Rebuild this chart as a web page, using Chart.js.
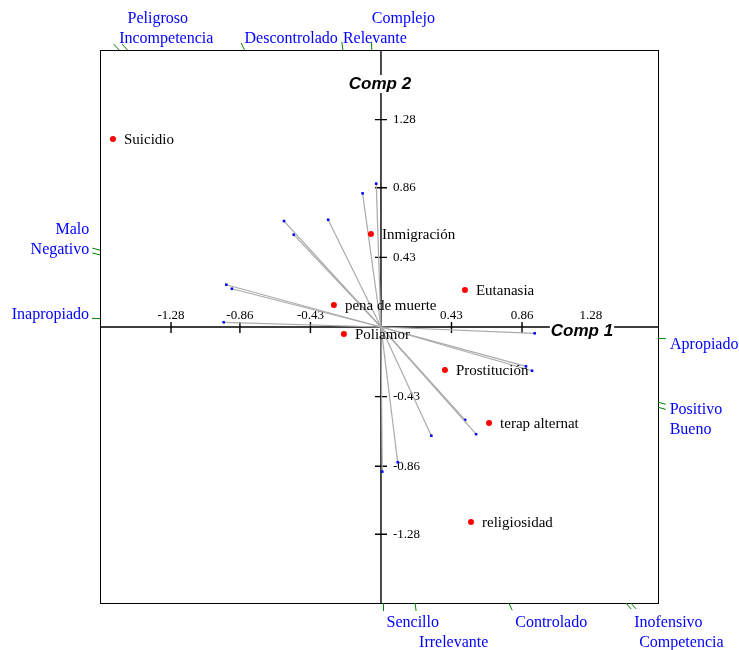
<!DOCTYPE html>
<html>
<head>
<meta charset="utf-8">
<script src="https://cdn.jsdelivr.net/npm/chart.js@4.4.0/dist/chart.umd.min.js"></script>
<style>
  body { margin: 0; background: #fff; }
  #wrap { width: 739px; height: 650px; }
</style>
</head>
<body>
<div id="wrap"><canvas id="biplot" width="739" height="650"></canvas></div>
<script>
// elements (red points)
const objLabels = ['Suicidio', 'Inmigración', 'Eutanasia', 'pena de muerte', 'Poliamor', 'Prostitución', 'terap alternat', 'religiosidad'];
const objX = [-1.634, -0.061, 0.512, -0.287, -0.226, 0.390, 0.659, 0.549];
const objY = [1.160, 0.574, 0.228, 0.136, -0.043, -0.265, -0.593, -1.204];

// construct poles (blue vector ends)
const poleLabels = ['Peligroso', 'Incompetencia', 'Descontrolado', 'Relevante', 'Complejo',
  'Malo', 'Negativo', 'Inapropiado', 'Apropiado', 'Positivo', 'Bueno',
  'Sencillo', 'Irrelevante', 'Controlado', 'Inofensivo', 'Competencia'];
const poleX = [-0.591, -0.532, -0.322, -0.112, -0.029, -0.943, -0.909, -0.959, 0.937, 0.884, 0.921, 0.008, 0.102, 0.307, 0.580, 0.513];
const poleY = [0.654, 0.570, 0.662, 0.825, 0.885, 0.261, 0.236, 0.029, -0.039, -0.243, -0.270, -0.893, -0.835, -0.671, -0.662, -0.574];

const axisTicks = [-1.28, -0.86, -0.43, 0.43, 0.86, 1.28];
const xRange = [-1.713, 1.689];
const yRange = [-1.704, 1.710];

const serif = '"Liberation Serif", "Times New Roman", serif';

// box, axes through the origin, tick labels, axis titles
const biplotFrame = {
  id: 'biplotFrame',
  beforeDatasetsDraw(chart) {
    const { ctx, chartArea: a, scales: { x, y } } = chart;
    const x0 = x.getPixelForValue(0), y0 = y.getPixelForValue(0);
    ctx.save();
    ctx.strokeStyle = '#000';
    ctx.lineWidth = 1;
    ctx.strokeRect(a.left + 0.5, a.top + 0.5, a.right - a.left, a.bottom - a.top);
    ctx.lineWidth = 1.4;
    ctx.beginPath();
    ctx.moveTo(a.left, y0); ctx.lineTo(a.right, y0);
    ctx.moveTo(x0, a.top); ctx.lineTo(x0, a.bottom);
    axisTicks.forEach(v => {
      const px = x.getPixelForValue(v), py = y.getPixelForValue(v);
      ctx.moveTo(px, y0 - 5); ctx.lineTo(px, y0 + 6);
      ctx.moveTo(x0 - 6, py); ctx.lineTo(x0 + 6, py);
    });
    ctx.stroke();

    ctx.fillStyle = '#000';
    ctx.font = '13px ' + serif;
    ctx.textAlign = 'center';
    ctx.textBaseline = 'alphabetic';
    axisTicks.forEach(v => ctx.fillText(v.toFixed(2), x.getPixelForValue(v), y0 - 8));
    ctx.textAlign = 'left';
    ctx.textBaseline = 'middle';
    axisTicks.forEach(v => ctx.fillText(v.toFixed(2), x0 + 12, y.getPixelForValue(v)));

    // axis titles on white boxes
    ctx.font = 'italic bold 17px "Liberation Sans", Arial, sans-serif';
    const titles = [['Comp 1', a.right - 76, y0 + 4], ['Comp 2', x0 - 1, a.top + 34]];
    titles.forEach(([t, cx, cy]) => {
      const w = ctx.measureText(t).width;
      ctx.fillStyle = '#fff';
      ctx.fillRect(cx - w / 2 - 1, cy - 9, w + 2, 18);
      ctx.fillStyle = '#000';
      ctx.textAlign = 'center';
      ctx.fillText(t, cx, cy);
    });
    ctx.restore();
  },
  afterDatasetsDraw(chart) {
    const { ctx, chartArea: a, scales: { x, y } } = chart;
    ctx.save();
    // element labels
    ctx.font = '15px ' + serif;
    ctx.fillStyle = '#000';
    ctx.textAlign = 'left';
    ctx.textBaseline = 'middle';
    objLabels.forEach((t, i) => ctx.fillText(t, x.getPixelForValue(objX[i]) + 11, y.getPixelForValue(objY[i]) + 1));

    // pole labels where each vector meets the box
    ctx.font = '16px ' + serif;
    const x0 = x.getPixelForValue(0), y0 = y.getPixelForValue(0);
    const sides = { top: [], bottom: [], left: [], right: [] };
    poleLabels.forEach((t, i) => {
      const vx = poleX[i], vy = poleY[i];
      const tx = vx > 0 ? xRange[1] / vx : xRange[0] / vx;
      const ty = vy > 0 ? yRange[1] / vy : yRange[0] / vy;
      const s = Math.min(tx, ty);
      const px = x.getPixelForValue(vx * s), py = y.getPixelForValue(vy * s);
      const dx = px - x0, dy = py - y0, len = Math.hypot(dx, dy);
      const ux = dx / len, uy = dy / len;
      const side = tx < ty ? (vx > 0 ? 'right' : 'left') : (vy > 0 ? 'top' : 'bottom');
      sides[side].push({ t, px, py, ex: px + ux * 8, ey: py + uy * 8, w: ctx.measureText(t).width });
    });

    ctx.strokeStyle = '#008000';
    ctx.lineWidth = 1;
    ctx.beginPath();
    Object.values(sides).flat().forEach(p => { ctx.moveTo(p.px, p.py); ctx.lineTo(p.ex, p.ey); });
    ctx.stroke();

    ctx.fillStyle = '#0000ff';
    ctx.textBaseline = 'alphabetic';
    // top and bottom: rows, pushed outward when they overlap
    ['top', 'bottom'].forEach(side => {
      const rows = [];
      sides[side].sort((p, q) => p.ex - q.ex).forEach(p => {
        const lx = side === 'top' ? p.px : p.ex + 3;
        let r = 0;
        while (rows[r] !== undefined && rows[r] > lx) r++;
        rows[r] = lx + p.w;
        const by = side === 'top' ? a.top - 7 - r * 20 : a.bottom + 24 + r * 20;
        ctx.textAlign = 'left';
        ctx.fillText(p.t, lx, by);
      });
    });
    // left and right: stacked vertically
    let prev = null;
    sides.left.sort((p, q) => q.ey - p.ey).forEach(p => {
      let by = p.ey + 1;
      if (prev !== null && prev - by < 18) by = prev - 20;
      prev = by;
      ctx.textAlign = 'right';
      ctx.fillText(p.t, p.ex - 3, by);
    });
    prev = null;
    sides.right.sort((p, q) => p.ey - q.ey).forEach(p => {
      let by = p.ey + 10;
      if (prev !== null && by - prev < 18) by = prev + 20;
      prev = by;
      ctx.textAlign = 'left';
      ctx.fillText(p.t, p.ex + 4, by);
    });
    ctx.restore();
  }
};

const objectSet = {
  type: 'scatter',
  label: 'Elementos',
  data: objX.map((v, i) => ({ x: v, y: objY[i] })),
  pointRadius: 3,
  pointBackgroundColor: '#ff0000',
  pointBorderWidth: 0
};

const vectorSets = poleLabels.map((name, i) => ({
  type: 'line',
  label: name,
  data: [{ x: 0, y: 0 }, { x: poleX[i], y: poleY[i] }],
  borderColor: '#aaaaaa',
  borderWidth: 1.2,
  pointRadius: [0, 1.8],
  pointStyle: 'rect',
  pointBackgroundColor: '#0000ff',
  pointBorderWidth: 0,
  fill: false,
  tension: 0
}));

new Chart(document.getElementById('biplot'), {
  type: 'scatter',
  data: { datasets: [objectSet, ...vectorSets] },
  options: {
    responsive: false,
    animation: false,
    events: [],
    layout: { padding: { left: 100, right: 81, top: 50, bottom: 47 } },
    plugins: { legend: { display: false }, tooltip: { enabled: false } },
    scales: {
      x: { type: 'linear', display: false, min: xRange[0], max: xRange[1] },
      y: { type: 'linear', display: false, min: yRange[0], max: yRange[1] }
    }
  },
  plugins: [biplotFrame]
});
</script>
</body>
</html>
